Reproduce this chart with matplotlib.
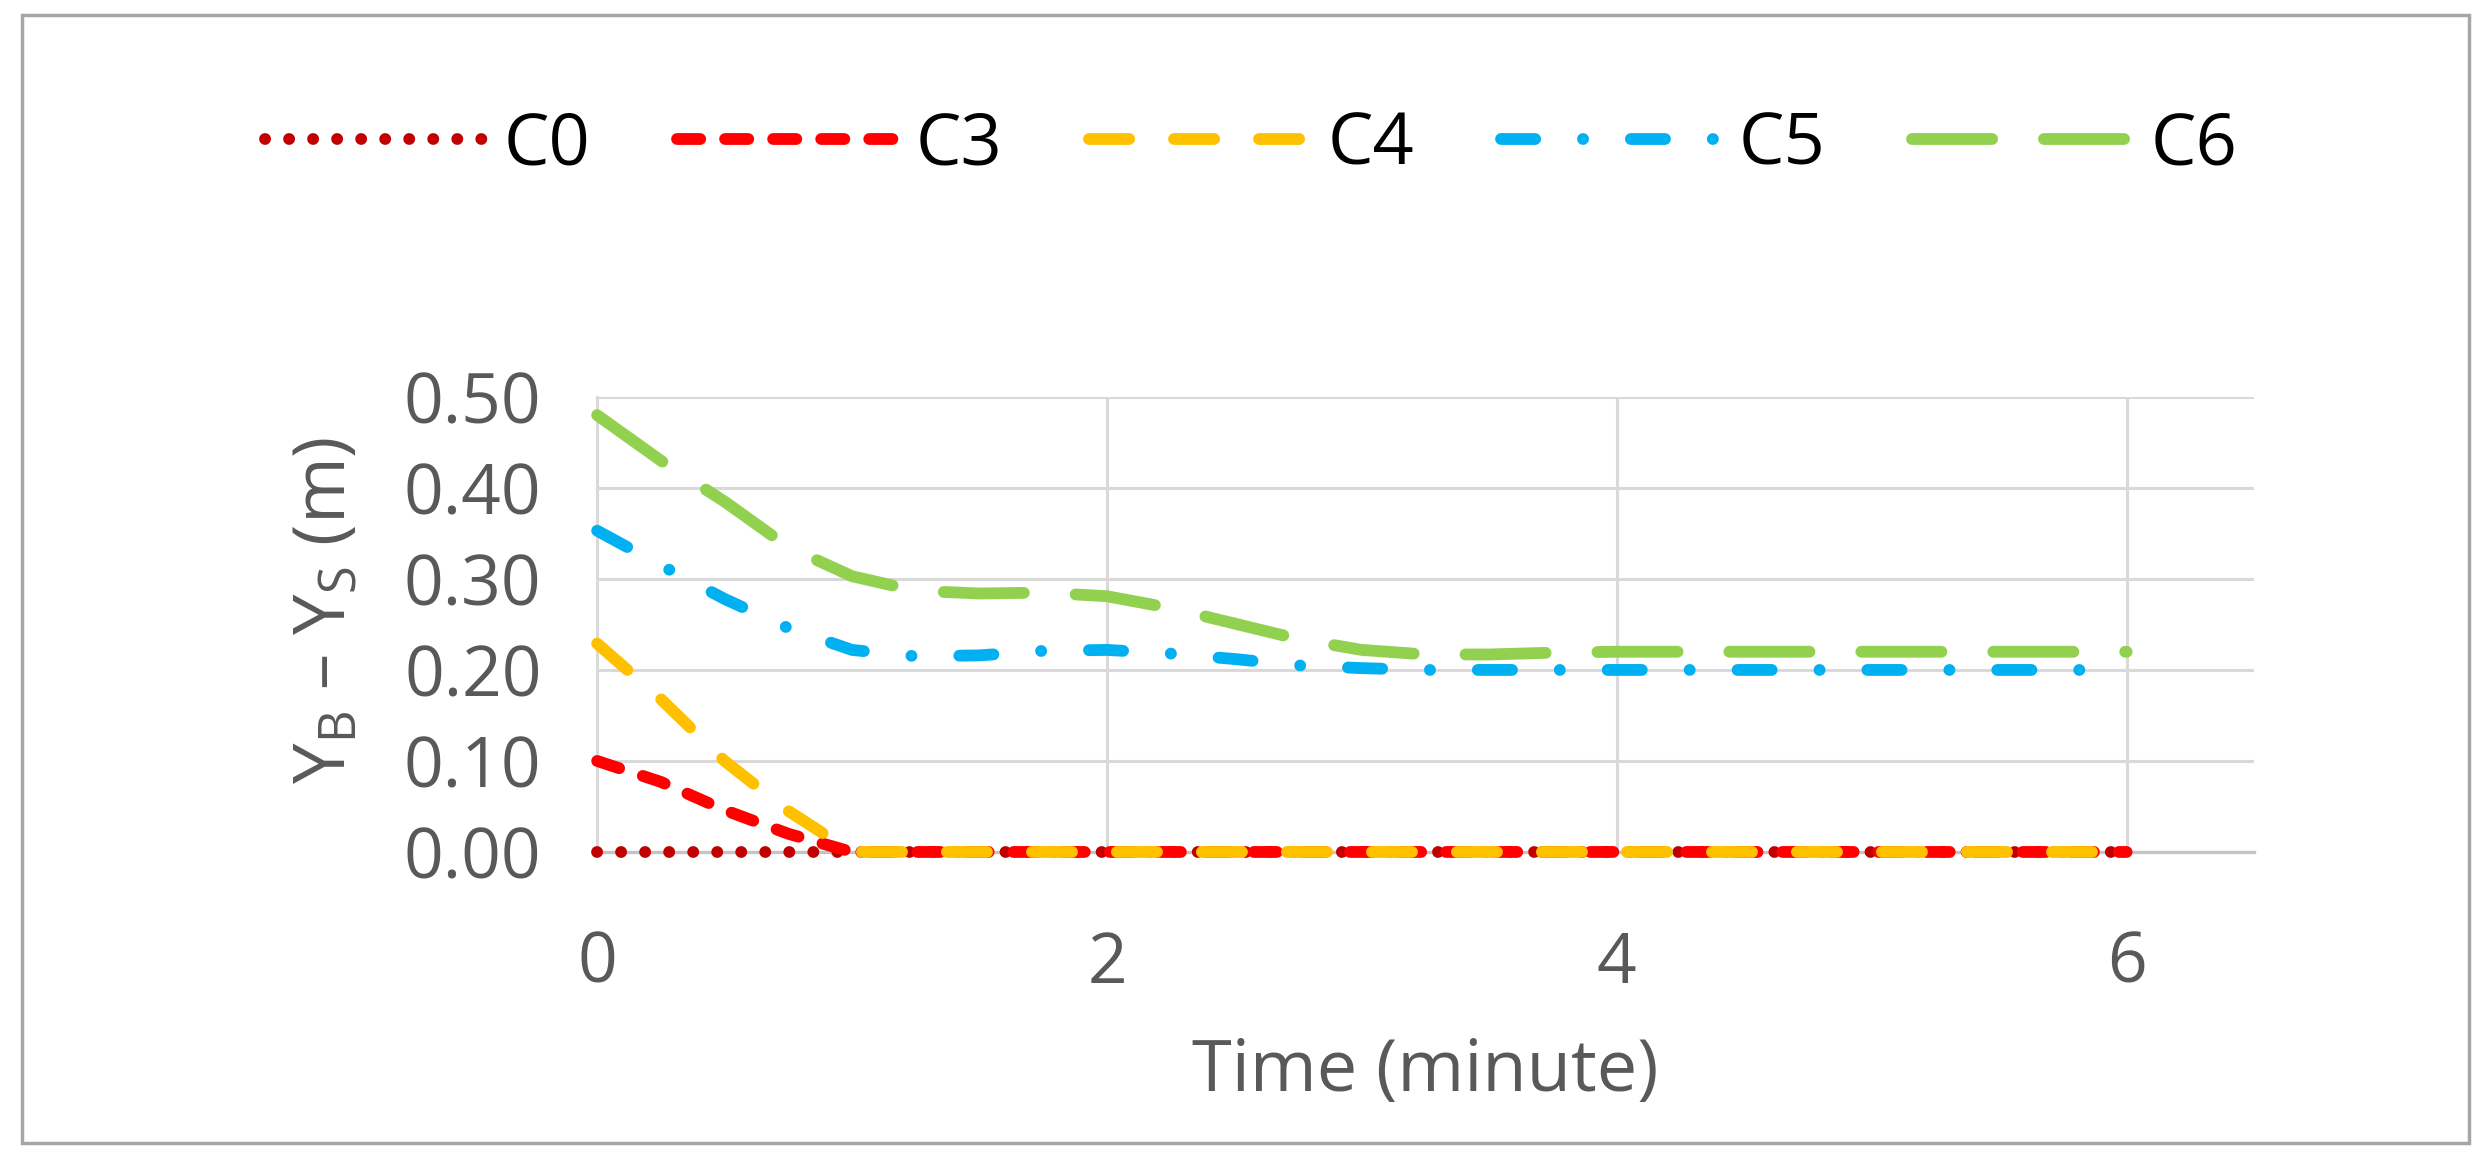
import matplotlib
matplotlib.use("Agg")
import matplotlib.pyplot as plt
from matplotlib.patches import Rectangle
from matplotlib.ticker import FormatStrFormatter

time = [0, 0.25, 0.5, 0.75, 1, 1.25, 1.5, 1.75, 2, 2.25, 2.5, 2.75, 3,
        3.25, 3.5, 3.75, 4, 4.25, 4.5, 4.75, 5, 5.25, 5.5, 5.75, 6]

c0 = [0.0] * 25
c3 = [0.10, 0.077, 0.046, 0.020, 0.0, 0.0, 0.0, 0.0, 0.0, 0.0, 0.0, 0.0, 0.0,
      0.0, 0.0, 0.0, 0.0, 0.0, 0.0, 0.0, 0.0, 0.0, 0.0, 0.0, 0.0]
c4 = [0.229, 0.168, 0.10, 0.045, 0.0, 0.0, 0.0, 0.0, 0.0, 0.0, 0.0, 0.0, 0.0,
      0.0, 0.0, 0.0, 0.0, 0.0, 0.0, 0.0, 0.0, 0.0, 0.0, 0.0, 0.0]
c5 = [0.353, 0.315, 0.278, 0.246, 0.222, 0.215, 0.216, 0.221, 0.222, 0.218,
      0.212, 0.205, 0.202, 0.200, 0.200, 0.200, 0.200, 0.200, 0.200, 0.200,
      0.200, 0.200, 0.200, 0.200, 0.200]
c6 = [0.48, 0.43, 0.385, 0.335, 0.303, 0.287, 0.284, 0.285, 0.281, 0.268,
      0.251, 0.234, 0.222, 0.217, 0.217, 0.219, 0.22, 0.22, 0.22, 0.22,
      0.22, 0.22, 0.22, 0.22, 0.22]

labels = ["C0", "C3", "C4", "C5", "C6"]
colors = ["#C00000", "#FF0000", "#FFC000", "#00B0F0", "#92D050"]
dashes = [(0.1, 17.2), (16.7, 17.9), (28.9, 32.3), (24.6, 34.4, 0.1, 34.4), (57.7, 37.3)]

plt.rcParams["font.family"] = ["Open Sans", "DejaVu Sans"]
plt.rcParams["mathtext.fontset"] = "custom"
plt.rcParams["mathtext.rm"] = "Open Sans"
plt.rcParams["mathtext.default"] = "rm"
plt.rcParams["lines.scale_dashes"] = False

fig = plt.figure(figsize=(24.88, 11.65), dpi=100)
ax = fig.add_axes([0.240, 0.2687, 0.666, 0.3906])

for y, lab, col, d in zip([c0, c3, c4, c5, c6], labels, colors, dashes):
    ax.plot(time, y, color=col, lw=8.5, dashes=d, dash_capstyle="round",
            label=lab, clip_on=False, zorder=3)

ax.set_xlim(0, 6.5)
ax.set_ylim(0, 0.5)
ax.set_xticks([0, 2, 4, 6])
ax.set_yticks([0, 0.1, 0.2, 0.3, 0.4, 0.5])
ax.yaxis.set_major_formatter(FormatStrFormatter("%.2f"))
ax.grid(True, color="#D9D9D9", lw=2.2)
ax.set_axisbelow(True)

for s in ["top", "right"]:
    ax.spines[s].set_visible(False)
ax.spines["left"].set_color("#D9D9D9")
ax.spines["left"].set_linewidth(2.2)
ax.spines["bottom"].set_color("#C4C4C4")
ax.spines["bottom"].set_linewidth(2.4)

ax.tick_params(axis="both", length=0, labelsize=50, colors="#595959")
ax.tick_params(axis="x", pad=56)
ax.tick_params(axis="y", pad=40)

ax.set_xlabel("Time (minute)", fontsize=52, color="#595959")
ax.xaxis.set_label_coords(0.5, -0.405)
ax.xaxis.label.set_va("top")
ax.set_ylabel("Y$_B$ – Y$_S$ (m)", fontsize=52, color="#595959")
ax.yaxis.set_label_coords(-0.142, 0.53)

fig.legend(loc="center", bbox_to_anchor=(0.503, 0.875), ncol=5, frameon=False,
           fontsize=52, handlelength=3.0, handletextpad=0.3, columnspacing=1.2)

fig.patches.append(Rectangle((0.0088, 0.0189), 0.9835, 0.968, transform=fig.transFigure,
                             fill=False, edgecolor="#A6A6A6", lw=2.5))

fig.savefig("out.png", dpi=100)
